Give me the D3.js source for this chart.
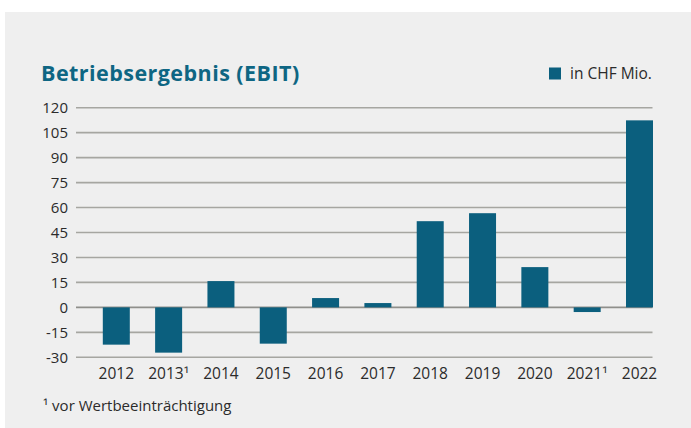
<!DOCTYPE html>
<html>
<head>
<meta charset="utf-8">
<script src="https://cdn.jsdelivr.net/npm/d3@7"></script>
<style>
  body { margin: 0; background: #fff; }
  svg { display: block; font-family: 'Open Sans', 'Noto Sans', sans-serif; }
</style>
</head>
<body>
<div id="chart"></div>
<script>
const years = ['2012', '2013', '2014', '2015', '2016', '2017', '2018', '2019', '2020', '2021', '2022']
const noted = ['2013', '2021']
const ebit = [-22.4, -27.2, 15.8, -21.8, 5.6, 2.6, 51.8, 56.6, 24.2, -2.8, 112.4]
const ticks = [-30, -15, 0, 15, 30, 45, 60, 75, 90, 105, 120]

const W = 691
const H = 428
const barColor = '#0b5f7e'

const svg = d3.select('#chart')
  .append('svg')
  .attr('width', W)
  .attr('height', H)

// panel
svg.append('rect')
  .attr('x', 5)
  .attr('y', 12)
  .attr('width', W - 5)
  .attr('height', H - 12)
  .attr('fill', '#efefef')

const y = d3.scaleLinear()
  .domain([-30, 120])
  .range([357.3, 107.7])

const x = d3.scalePoint()
  .domain(years)
  .range([116.3, 639.5])

const barW = 27

// gridlines
svg.selectAll('.grid')
  .data(ticks)
  .join('line')
  .attr('class', 'grid')
  .attr('x1', 76)
  .attr('x2', 652.5)
  .attr('y1', d => y(d))
  .attr('y2', d => y(d))
  .attr('stroke', d => d === 0 ? '#8f8f8b' : '#a6a6a1')
  .attr('stroke-width', 1.6)

svg.selectAll('.tick-label')
  .data(ticks)
  .join('text')
  .attr('class', 'tick-label')
  .attr('x', 68)
  .attr('y', d => y(d))
  .attr('dy', '0.36em')
  .attr('text-anchor', 'end')
  .attr('font-size', 15)
  .attr('fill', '#2b2b2b')
  .text(d => d)

// bars
svg.selectAll('.bar')
  .data(years)
  .join('rect')
  .attr('class', 'bar')
  .attr('x', d => x(d) - barW / 2)
  .attr('y', (d, i) => y(Math.max(0, ebit[i])))
  .attr('width', barW)
  .attr('height', (d, i) => Math.abs(y(ebit[i]) - y(0)))
  .attr('fill', barColor)

// year labels
svg.selectAll('.year')
  .data(years)
  .join('text')
  .attr('class', 'year')
  .attr('x', d => x(d))
  .attr('y', 379)
  .attr('text-anchor', 'middle')
  .attr('font-size', 15.5)
  .attr('fill', '#2b2b2b')
  .text(d => noted.includes(d) ? d + '\u00b9' : d)

// title
svg.append('text')
  .attr('x', 41)
  .attr('y', 81)
  .attr('font-size', 21.5)
  .attr('font-weight', 'bold')
  .attr('letter-spacing', 0.45)
  .attr('fill', '#0e6683')
  .text('Betriebsergebnis (EBIT)')

// legend
svg.append('rect')
  .attr('x', 549)
  .attr('y', 67.5)
  .attr('width', 12)
  .attr('height', 12)
  .attr('fill', barColor)

svg.append('text')
  .attr('x', 570)
  .attr('y', 79)
  .attr('font-size', 15.5)
  .attr('fill', '#2b2b2b')
  .text('in CHF Mio.')

// footnote
svg.append('text')
  .attr('x', 43)
  .attr('y', 411)
  .attr('font-size', 15)
  .attr('fill', '#2b2b2b')
  .text('\u00b9 vor Wertbeeinträchtigung')
</script>
</body>
</html>
